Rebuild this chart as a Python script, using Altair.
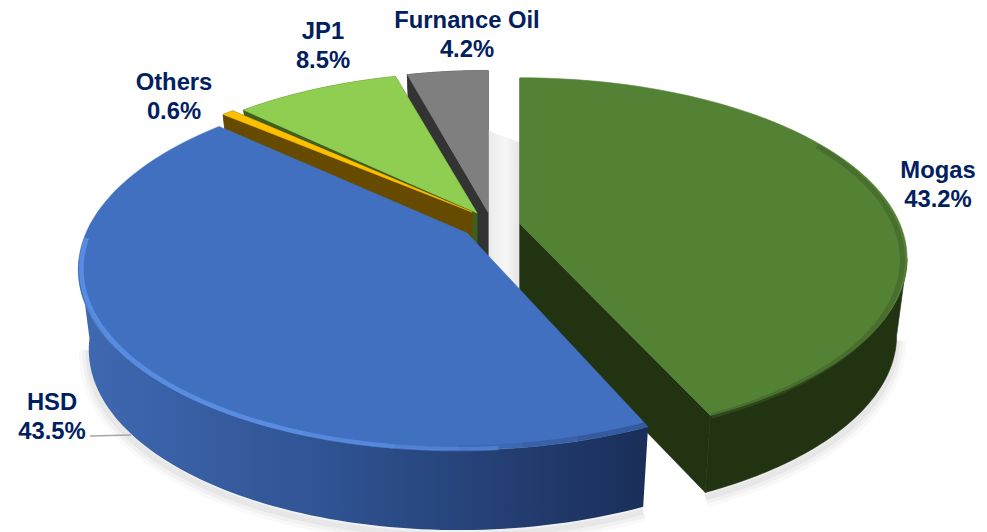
import math
import altair as alt
import pandas as pd

# ---- chart values ----
names = ["Mogas", "HSD", "Others", "JP1", "Furnance Oil"]
shares = [43.2, 43.5, 0.6, 8.5, 4.2]

# ---- colours ----
TEXT = "#002060"
TOP = {"Mogas": "#548235", "HSD": "#4270c0", "Others": "#ffc000", "JP1": "#8fce50", "Furnance Oil": "#7f7f7f"}
SIDE = {"Mogas": "#213311", "HSD": "#1c3159", "Others": "#664a00", "JP1": "#3f5f1e", "Furnance Oil": "#333333"}

# ---- 3-D view of each exploded slice: apex x, apex y, radius x, radius y, perspective, shear, depth
VIEW = {
    "Mogas": (520, 224, 380, 174, 0.19, 0.0, 77),
    "HSD": (467, 233, 381, 178, 0.18, -0.04, 80),
    "Others": (472, 212, 376, 163, 0.18, 0.0, 60),
    "JP1": (477, 213, 367, 166, 0.18, 0.0, 40),
    "Furnance Oil": (488, 212, 363, 167, 0.18, 0.0, 60),
}
LABELS = {
    "Mogas": (938, 171), "HSD": (52, 403), "Others": (174, 83),
    "JP1": (323, 32), "Furnance Oil": (467, 21),
}
W, H = 971, 524
xs = alt.Scale(domain=[8, 8 + W])
ys = alt.Scale(domain=[8 + H, 8])


def project(name, deg, shrink=1.0, drop=0.0):
    cx, cy, rx, ry, k, sh, _ = VIEW[name]
    t = math.radians(deg)
    u, v = math.sin(t), math.cos(t)
    w = 1 + k * v
    dy = -ry * v / w
    dx = rx * u / w + sh * dy
    return cx + dx * shrink, cy + dy + drop


def sweep(a0, a1, n=80):
    return [a0 + (a1 - a0) * i / n for i in range(n + 1)]


def line_layer(pts, **mark):
    df = pd.DataFrame({"x": [p[0] for p in pts], "y": [p[1] for p in pts], "i": range(len(pts))})
    return alt.Chart(df).mark_line(**mark).encode(
        x=alt.X("x:Q", scale=xs, axis=None),
        y=alt.Y("y:Q", scale=ys, axis=None),
        order="i:Q",
    )


def poly(pts, fill, **mark):
    pts = list(pts) + [pts[0]]
    if isinstance(fill, str):
        return line_layer(pts, fill=fill, stroke=fill, strokeWidth=0.6, **mark)
    return line_layer(pts, fill=fill, stroke=None, strokeWidth=0, **mark)


# slice angle ranges, clockwise from the top
start = 0.0
ANG = {}
for nm, s in zip(names, shares):
    ANG[nm] = (start, start + s * 3.6)
    start += s * 3.6


def parts(name, wall_fill, wall=None, faces=True):
    a0, a1 = ANG[name]
    w0, w1 = wall if wall else (a0, a1)
    cx, cy, *_, depth = VIEW[name]
    rim = [project(name, a) for a in sweep(a0, a1)]
    upper = [project(name, a) for a in sweep(w0, w1)]
    lower = [project(name, a, 0.973, depth) for a in sweep(w0, w1)]
    out = [poly(upper + lower[::-1], wall_fill)]
    # the two flat cut faces
    if faces:
        for a in (a0, a1):
            r = project(name, a)
            b = project(name, a, 0.973, depth)
            out.append(poly([(cx, cy), r, b, (cx, cy + depth)], SIDE[name]))
    return out, rim, [(cx, cy)] + rim


layers = []

# soft ground shadows
for nm, angs, off in (("Mogas", (101, 155.5), 5), ("HSD", (155.5, 260), 5)):
    d = VIEW[nm][6]
    pts = [project(nm, a, 0.973, d + off) for a in sweep(*angs)]
    for sw, op in ((20, 0.025), (13, 0.03), (6, 0.04)):
        layers.append(line_layer(pts, stroke="#000000", strokeWidth=sw, opacity=op))

# faint shade inside the gap between the slices
gap = alt.Gradient(
    gradient="linear",
    stops=[
        alt.GradientStop(offset=0, color="#ebebeb"),
        alt.GradientStop(offset=0.5, color="#f7f7f7"),
        alt.GradientStop(offset=1, color="#e2e2e2"),
    ],
    x1=0, x2=1, y1=0, y2=0,
)
layers.append(poly([(489, 131), (519, 142), (522, 300), (489, 258)], gap))

# Mogas
p, rim, top = parts("Mogas", SIDE["Mogas"], wall=(101, ANG["Mogas"][1]))
layers += p
layers.append(poly(top, TOP["Mogas"]))
layers.append(line_layer([project("Mogas", a, 0.988, 1.5) for a in sweep(60, 155)],
                         stroke="#3c5c25", strokeWidth=5, opacity=0.5))

# Furnance Oil, JP1, Others: the far slices
for nm in ("Furnance Oil", "JP1", "Others"):
    p, rim, top = parts(nm, SIDE[nm])
    layers += p
    layers.append(poly(top, TOP[nm]))

# HSD
grad = alt.Gradient(
    gradient="linear",
    stops=[
        alt.GradientStop(offset=0, color="#3f69b2"),
        alt.GradientStop(offset=0.45, color="#2f5291"),
        alt.GradientStop(offset=1, color="#1a2e59"),
    ],
    x1=0, x2=1, y1=0, y2=0,
)
p, rim, top = parts("HSD", grad, wall=(ANG["HSD"][0], 262), faces=False)
layers += p
layers.append(poly(top, TOP["HSD"]))
for stop in (165, 172, 180):
    layers.append(line_layer([project("HSD", a, 0.995, -2) for a in sweep(155.5, stop)],
                             stroke="#1c3159", strokeWidth=6, opacity=0.12))
for begin in (175, 188, 200):
    layers.append(line_layer([project("HSD", a, 0.992, -1) for a in sweep(begin, 268)],
                             stroke="#5b8fe6", strokeWidth=4.5, opacity=0.5))

# leader line of the HSD label
layers.append(line_layer([(90, 436), (131, 435)], stroke="#a6a6a6", strokeWidth=1.3))

# labels
rows = []
for nm, s in zip(names, shares):
    lx, ly = LABELS[nm]
    rows.append({"x": lx, "y": ly, "t": nm})
    rows.append({"x": lx, "y": ly + 28.5, "t": f"{s}%"})
layers.append(
    alt.Chart(pd.DataFrame(rows))
    .mark_text(font="Liberation Sans", fontWeight="bold", fontSize=23.8, color=TEXT, align="center", baseline="middle")
    .encode(x=alt.X("x:Q", scale=xs, axis=None), y=alt.Y("y:Q", scale=ys, axis=None), text="t:N")
)

chart = (
    alt.layer(*layers)
    .properties(width=W, height=H, padding=0, autosize=alt.AutoSizeParams(type="none"), background="white")
    .configure_view(stroke=None)
)
chart.save("out.html", embed_options={"renderer": "svg", "actions": False})
